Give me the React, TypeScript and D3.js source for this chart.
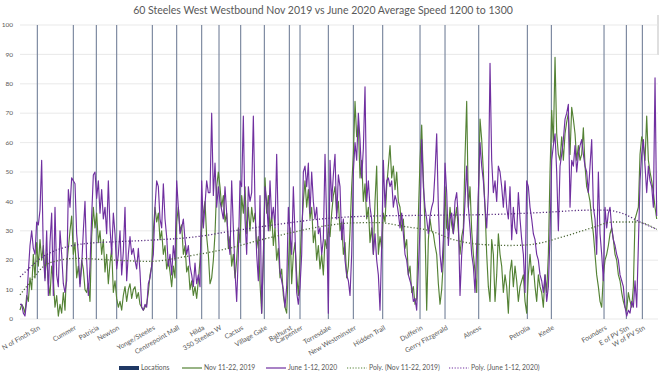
import React from "react";
import * as d3 from "d3";

const W = 660;
const H = 376;
const FONT = "Lato, 'Open Sans', sans-serif";
const TEXT = "#595959";
const NOV_COLOR = "#548235";
const JUNE_COLOR = "#7030a0";
const LOC_COLOR = "#738099";

const title = "60 Steeles West Westbound Nov 2019 vs June 2020 Average Speed 1200 to 1300";
const yTicks = [0, 10, 20, 30, 40, 50, 60, 70, 80, 90, 100];

const locationNames = [
  "N of Finch Stn", "Cummer", "Patricia", "Newton", "Yonge/Steeles", "Centrepoint Mall",
  "Hilda", "350 Steeles W", "Cactus", "Village Gate", "Bathurst", "Carpenter",
  "Torresdale", "New Westminster", "Hidden Trail", "Dufferin", "Gerry Fitzgerald",
  "Alness", "Petrolia", "Keele", "Founders", "E of PV Stn", "W of PV Stn",
];
const locationIndex = [
  10.4, 32, 45.8, 58, 79.4, 94, 109, 119.4, 132.4, 146.6, 161.6, 168,
  185, 200, 217.6, 240, 255, 275.2, 304.4, 318.8, 350.4, 363.8, 373.4,
];

const novSpeed = [
  3, 5, 4, 2, 8, 6, 14, 10, 22, 14,
  26, 18, 27, 20, 25, 14, 22, 12, 8, 18,
  13, 4, 8, 1, 5, 2, 9, 3, 18, 24,
  30, 35, 22, 26, 14, 18, 12, 20, 17, 10,
  9, 12, 6, 28, 38, 31, 36, 26, 30, 22,
  27, 16, 22, 12, 19, 24, 9, 13, 7, 4,
  6, 3, 8, 11, 6, 10, 12, 7, 10, 11,
  7, 9, 5, 4, 3, 4, 5, 9, 15, 18,
  30, 38, 33, 36, 27, 30, 22, 25, 17, 20,
  16, 11, 18, 14, 33, 38, 30, 32, 22, 25,
  16, 18, 10, 13, 8, 11, 7, 13, 20, 31,
  36, 40, 28, 22, 12, 14, 20, 29, 45, 50,
  45, 38, 42, 33, 36, 24, 28, 18, 22, 14,
  20, 31, 26, 42, 36, 45, 29, 38, 30, 38,
  33, 36, 24, 28, 12, 2, 20, 48, 36, 42,
  30, 36, 25, 31, 20, 24, 14, 17, 8, 4,
  2, 18, 31, 12, 22, 26, 15, 8, 20, 31,
  40, 47, 38, 44, 34, 38, 26, 30, 20, 25,
  17, 22, 15, 27, 24, 31, 28, 36, 42, 45,
  36, 40, 30, 33, 22, 26, 14, 18, 30, 45,
  56, 74, 62, 66, 48, 54, 40, 46, 34, 38,
  26, 31, 22, 40, 52, 22, 28, 24, 36, 33,
  45, 52, 59, 48, 52, 44, 50, 40, 38, 30,
  34, 24, 27, 15, 18, 9, 11, 5, 7, 35,
  54, 66, 48, 31, 3, 27,
  34, 30, 29, 25, 22, 12, 5, 10, 20, 45,
  31, 30, 38, 32, 29, 34, 38, 30, 22, 28,
  31, 55, 74, 38, 45, 30, 22, 16, 9, 40,
  68, 61, 50, 38, 22, 11, 6, 27, 22, 6,
  15, 29, 22, 18, 9, 15, 11, 2, 16, 20,
  11, 18, 13, 6, 11, 13, 15, 6, 2, 15,
  22, 15, 18, 11, 6, 15, 11, 9, 4, 15,
  9, 22, 50, 71, 60, 89, 63, 56, 54, 62,
  54, 63, 67, 70, 56, 72, 68, 63, 54, 59,
  54, 56, 65, 52, 45, 43, 40, 34, 29, 22,
  15, 11, 6, 4, 15, 20, 22, 25, 29, 31,
  27, 22, 20, 15, 13, 9, 6, 4, 3, 9,
  6, 4, 11, 34, 36, 38, 56, 62, 59, 54,
  69, 54, 50, 47, 43, 38, 34,
];

const juneSpeed = [
  5, 5, 2, 1, 6, 16, 25, 30, 24, 22,
  33, 32, 37, 54, 22, 13, 30, 8, 26, 36,
  8, 38, 15, 11, 30, 22, 12, 9, 13, 44,
  38, 48, 47, 46, 29, 22, 11, 18, 30, 40,
  20, 8, 18, 35, 49, 50, 41, 47, 36, 44,
  34, 38, 29, 47, 31, 22, 36, 29, 17, 22,
  30, 15, 23, 38, 13, 22, 28, 22, 24, 20,
  17, 24, 16, 4, 3, 5, 4, 12, 14, 18,
  22, 38, 47, 45, 34, 31, 46, 34, 28, 18,
  22, 15, 25, 20, 47, 38, 29, 31, 34, 27,
  22, 25, 18, 15, 11, 19, 12, 15, 11, 47,
  31, 39, 47, 43, 43, 70, 42, 53, 38, 45,
  40, 37, 34, 45, 36, 27, 22, 47, 31, 16,
  6, 22, 47, 45, 69, 34, 22, 45, 40, 43,
  69, 39, 22, 13, 42, 2, 22, 45, 40, 30,
  47, 34, 38, 31, 56, 30, 16, 13, 10, 4,
  11, 38, 29, 22, 45, 29, 9, 5, 11, 22,
  50, 52, 45, 53, 36, 50, 40, 34, 38, 29,
  31, 22, 27, 56, 33, 2, 54, 40, 49, 56,
  34, 49, 45, 27, 34, 20, 15, 13, 8, 22,
  50, 60, 54, 70, 61, 48, 58, 79, 40, 47,
  38, 34, 22, 29, 20, 15, 3, 25, 54, 38,
  47, 48, 45, 47, 38, 42, 40, 36, 31, 36,
  29, 22, 20, 15, 13, 11, 6, 7, 3, 17,
  31, 61, 45, 38, 34, 29,
  35, 38, 40, 50, 63, 38, 22, 16, 27, 53,
  43, 25, 34, 36, 29, 40, 43, 34, 8, 22,
  29, 40, 52, 38, 31, 22, 18, 9, 25, 43,
  60, 52, 47, 38, 31, 43, 87, 54, 43, 47,
  40, 52, 50, 45, 38, 47, 38, 34, 45, 27,
  38, 31, 29, 43, 34, 27, 22, 9, 47, 45,
  38, 34, 29, 27, 22, 20, 15, 13, 9, 15,
  6, 11, 29, 54, 59, 63, 50, 30, 52, 56,
  61, 68, 70, 73, 38, 54, 52, 59, 50, 56,
  59, 61, 56, 52, 50, 43, 52, 61, 38, 34,
  22, 50, 29, 22, 13, 38, 31, 36, 38, 31,
  27, 25, 22, 20, 15, 13, 11, 4, 1, 3,
  2, 6, 4, 13, 4, 25, 47, 56, 61, 52,
  43, 52, 47, 45, 38, 82, 35,
];

const novTrendIndex = [0, 6, 14, 22, 34, 54, 78, 102, 125, 145, 160, 180, 200, 215, 230, 246, 260, 276, 294, 306, 326, 342, 356, 370, 382];
const novTrendValue = [8.2, 12.5, 17.8, 19.8, 20.6, 20.1, 19.6, 21.5, 24, 27, 29, 31.4, 32.7, 32.8, 31.5, 30, 27, 25.4, 25, 25.3, 28, 30.8, 33, 33, 30.5];
const juneTrendIndex = [0, 6, 12, 20, 30, 42, 54, 78, 106, 125, 140, 160, 180, 210, 250, 286, 316, 340, 352, 362, 372, 382];
const juneTrendValue = [14.3, 17.5, 20.5, 23, 24.8, 25.8, 26.2, 26.8, 28, 29.7, 31, 32.6, 34, 35, 35.3, 35.6, 36.3, 37, 37, 35.8, 33, 30.5];

const legendItems = [
  { label: "Locations", kind: "bar", color: "#1f3864", x: 119 },
  { label: "Nov 11-22, 2019", kind: "line", color: NOV_COLOR, x: 182 },
  { label: "June 1-12, 2020", kind: "line", color: JUNE_COLOR, x: 266 },
  { label: "Poly. (Nov 11-22, 2019)", kind: "dot", color: NOV_COLOR, x: 347 },
  { label: "Poly. (June 1-12, 2020)", kind: "dot", color: JUNE_COLOR, x: 449 },
];

export default function App() {
  const x = d3.scaleLinear().domain([0, novSpeed.length - 1]).range([20, 656.7]);
  const y = d3.scaleLinear().domain([0, 100]).range([319, 25]);

  const speedLine = d3
    .line<number>()
    .x((_, i) => x(i))
    .y((d) => y(d));

  const trendLine = d3
    .line<[number, number]>()
    .x((d) => x(d[0]))
    .y((d) => y(d[1]))
    .curve(d3.curveMonotoneX);

  const novTrend = novTrendIndex.map((v, i) => [v, novTrendValue[i]] as [number, number]);
  const juneTrend = juneTrendIndex.map((v, i) => [v, juneTrendValue[i]] as [number, number]);

  return (
    <svg
      width={W}
      height={H}
      style={{ position: "absolute", left: 0, top: 0, background: "#fff" }}
      fontFamily={FONT}
    >
      <rect x={0} y={0} width={W} height={H} fill="#fff" />
      <text x={323} y={14} textAnchor="middle" fontSize={10.5} fill={TEXT}>
        {title}
      </text>
      <line x1={658} x2={658} y1={15} y2={55} stroke="#bfbfbf" strokeWidth={1} />

      {yTicks.map((t) => (
        <g key={t}>
          <line x1={20} x2={658} y1={y(t)} y2={y(t)} stroke="#e3e3e3" strokeWidth={0.8} />
          <text x={13} y={y(t)} dy="0.35em" textAnchor="end" fontSize={6.5} fill={TEXT}>
            {t}
          </text>
        </g>
      ))}

      {locationIndex.map((li, i) => (
        <line
          key={"loc" + i}
          x1={x(li)}
          x2={x(li)}
          y1={y(100)}
          y2={y(0)}
          stroke={LOC_COLOR}
          strokeWidth={1.1}
        />
      ))}

      <path d={speedLine(novSpeed) || ""} fill="none" stroke={NOV_COLOR} strokeWidth={1.15} strokeLinejoin="round" />
      <path d={speedLine(juneSpeed) || ""} fill="none" stroke={JUNE_COLOR} strokeWidth={1.15} strokeLinejoin="round" />

      <path d={trendLine(novTrend) || ""} fill="none" stroke="#4f6b3a" strokeWidth={1.3} strokeDasharray="1.2 2" />
      <path d={trendLine(juneTrend) || ""} fill="none" stroke="#5a2f80" strokeWidth={1.3} strokeDasharray="1.2 2" />

      {locationNames.map((name, i) => {
        const px = x(locationIndex[i]) + 2;
        return (
          <text
            key={"lbl" + i}
            transform={`translate(${px},327) rotate(-30)`}
            textAnchor="end"
            dy="0.35em"
            fontSize={6.8}
            fill={TEXT}
          >
            {name}
          </text>
        );
      })}

      {legendItems.map((it) => (
        <g key={it.label}>
          {it.kind === "bar" && <rect x={it.x} y={366} width={20} height={4} fill={it.color} />}
          {it.kind === "line" && (
            <line x1={it.x} x2={it.x + 20} y1={368} y2={368} stroke={it.color} strokeWidth={1.2} />
          )}
          {it.kind === "dot" && (
            <line x1={it.x} x2={it.x + 20} y1={368} y2={368} stroke={it.color} strokeWidth={1.2} strokeDasharray="1.2 1.6" />
          )}
          <text x={it.x + 22} y={368} dy="0.35em" fontSize={6.8} fill={TEXT}>
            {it.label}
          </text>
        </g>
      ))}
    </svg>
  );
}
